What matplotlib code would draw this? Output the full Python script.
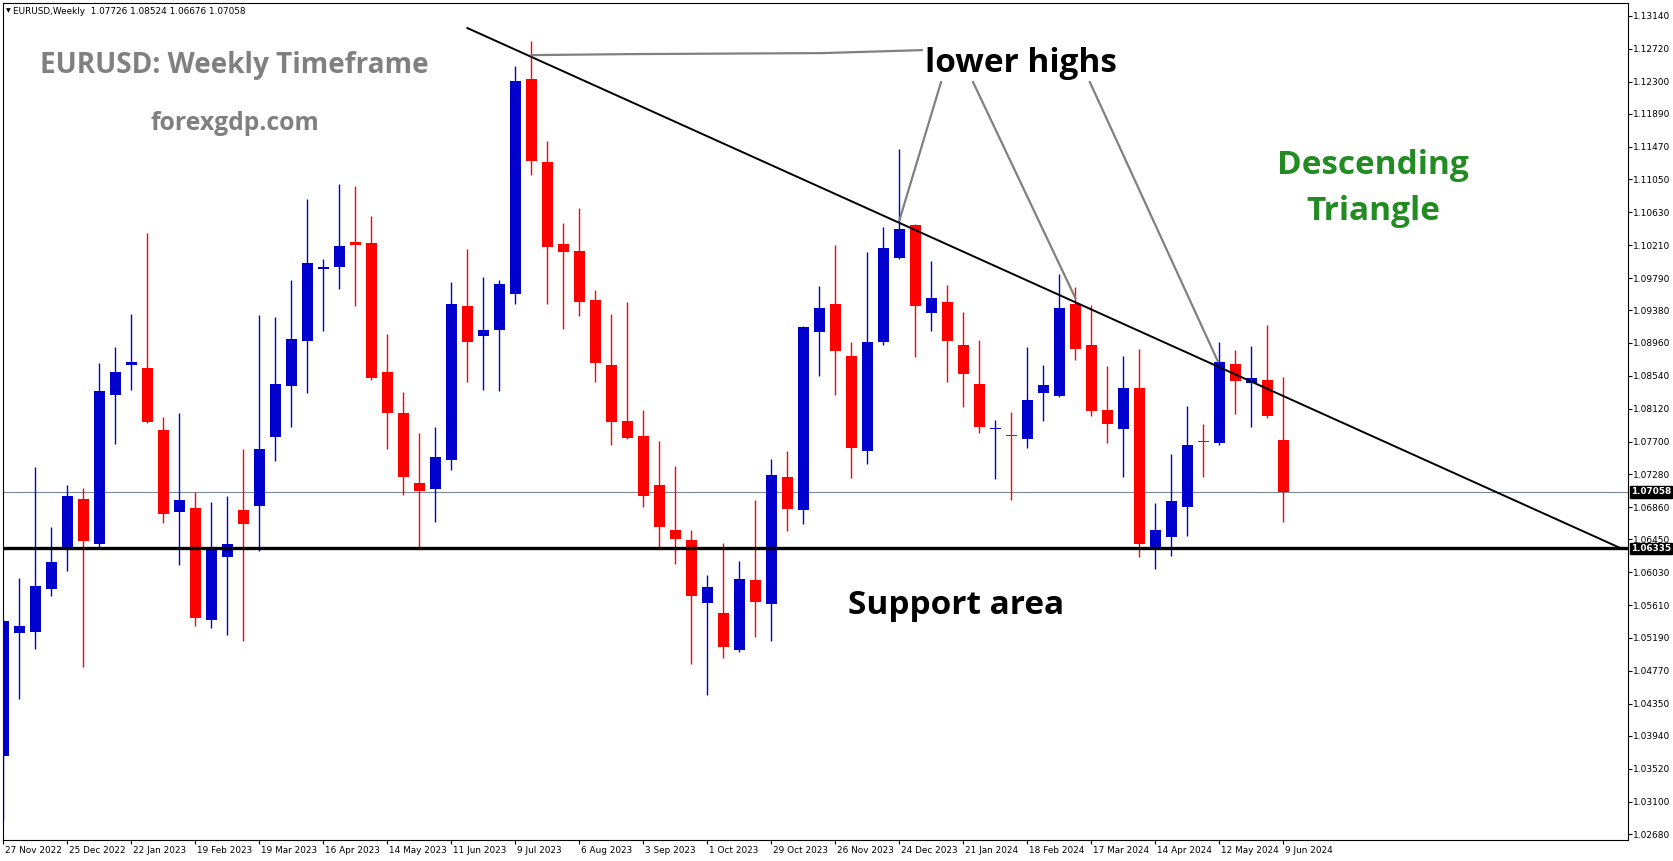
import numpy as np
import pandas as pd
import matplotlib
matplotlib.use("Agg")
import matplotlib.pyplot as plt
import matplotlib.transforms as mtransforms

# weekly EURUSD candles
symbol = "EURUSD,Weekly"
first_week = "2022-11-27"

opens = [1.03679, 1.05252, 1.05263, 1.05813, 1.06345, 1.06963, 1.06387, 1.08294, 1.08679, 1.08636,
         1.07845, 1.06798, 1.06847, 1.05419, 1.06224, 1.06820, 1.06876, 1.07758, 1.08411, 1.08986,
         1.09907, 1.09928, 1.10248, 1.10235, 1.08583, 1.08060, 1.07165, 1.07092, 1.07464, 1.09431,
         1.09050, 1.09128, 1.09587, 1.12333, 1.11273, 1.10223, 1.10132, 1.09505, 1.08675, 1.07957,
         1.07767, 1.07141, 1.06565, 1.06437, 1.05637, 1.05505, 1.05032, 1.05936, 1.05623, 1.07242,
         1.06825, 1.09101, 1.09455, 1.08788, 1.07582, 1.08973, 1.10047, 1.10467, 1.09343, 1.09481,
         1.08932, 1.08431, 1.07856, 1.07786, 1.07730, 1.08322, 1.08284, 1.09460, 1.08932, 1.08099,
         1.07861, 1.08380, 1.06348, 1.06480, 1.06863, 1.07707, 1.07682, 1.08688, 1.08449, 1.08483,
         1.07726]
highs = [1.05436, 1.05951, 1.07373, 1.06604, 1.07141, 1.07101, 1.08701, 1.08904, 1.09327, 1.10361,
         1.08009, 1.08061, 1.07050, 1.06925, 1.07010, 1.07611, 1.09322, 1.09288, 1.09764, 1.10797,
         1.10032, 1.10991, 1.10966, 1.10581, 1.09072, 1.08329, 1.07806, 1.07882, 1.09738, 1.10157,
         1.09798, 1.09764, 1.12501, 1.12816, 1.11541, 1.10490, 1.10680, 1.09634, 1.09327, 1.09478,
         1.08100, 1.07703, 1.07384, 1.06565, 1.06001, 1.06399, 1.06168, 1.06948, 1.07473, 1.07577,
         1.09171, 1.09687, 1.10207, 1.08968, 1.10123, 1.10439, 1.11436, 1.10480, 1.10005, 1.09698,
         1.09352, 1.08992, 1.07973, 1.08072, 1.08907, 1.08673, 1.09840, 1.09671, 1.09451, 1.08660,
         1.08790, 1.08880, 1.06910, 1.07537, 1.08151, 1.07921, 1.08969, 1.08867, 1.08918, 1.09187,
         1.08524]
lows = [1.02861, 1.04413, 1.05047, 1.05726, 1.06046, 1.04824, 1.06358, 1.07668, 1.08359, 1.07936,
        1.06660, 1.06120, 1.05341, 1.05316, 1.05225, 1.05147, 1.06306, 1.07455, 1.07888, 1.08320,
        1.09115, 1.09651, 1.09435, 1.08489, 1.07606, 1.07018, 1.06348, 1.06673, 1.07334, 1.08463,
        1.08358, 1.08345, 1.09457, 1.11105, 1.09457, 1.09137, 1.09306, 1.08463, 1.07655, 1.07733,
        1.06863, 1.06338, 1.06134, 1.04857, 1.04459, 1.04932, 1.05008, 1.05202, 1.05150, 1.06555,
        1.06645, 1.08537, 1.08297, 1.07237, 1.07412, 1.08935, 1.10031, 1.08781, 1.09114, 1.08462,
        1.08142, 1.07808, 1.07220, 1.06953, 1.07618, 1.07964, 1.08272, 1.08742, 1.08024, 1.07683,
        1.07247, 1.06222, 1.06070, 1.06237, 1.06492, 1.07247, 1.07656, 1.08052, 1.07886, 1.08001,
        1.06676]
closes = [1.05402, 1.05338, 1.05848, 1.06155, 1.07010, 1.06427, 1.08341, 1.08584, 1.08714, 1.07949,
          1.06772, 1.06950, 1.05441, 1.06318, 1.06396, 1.06647, 1.07602, 1.08432, 1.09008, 1.09980,
          1.09928, 1.10196, 1.10214, 1.08514, 1.08064, 1.07248, 1.07067, 1.07499, 1.09457, 1.08972,
          1.09124, 1.09712, 1.12306, 1.11287, 1.10188, 1.10123, 1.09483, 1.08705, 1.07949, 1.07746,
          1.07001, 1.06607, 1.06455, 1.05728, 1.05836, 1.05074, 1.05950, 1.05647, 1.07279, 1.06839,
          1.09162, 1.09403, 1.08859, 1.07620, 1.08968, 1.10170, 1.10416, 1.09434, 1.09533, 1.08985,
          1.08565, 1.07886, 1.07870, 1.07770, 1.08228, 1.08418, 1.09404, 1.08885, 1.08090, 1.07925,
          1.08379, 1.06390, 1.06565, 1.06936, 1.07652, 1.07691, 1.08714, 1.08474, 1.08509, 1.08027,
          1.07058]

price_ticks = [1.13140, 1.12720, 1.12300, 1.11890, 1.11470, 1.11050, 1.10630, 1.10210, 1.09790,
               1.09380, 1.08960, 1.08540, 1.08120, 1.07700, 1.07280, 1.06860, 1.06450, 1.06030,
               1.05610, 1.05190, 1.04770, 1.04350, 1.03940, 1.03520, 1.03100, 1.02680]

support_level = 1.06335

# drawn lines, as (bar index, price)
trend_x = [29.0, 101.1]
trend_y = [1.12985, 1.06335]
peak_link_x = [33.0, 39.1, 51.2, 57.4]
peak_link_y = [1.12639, 1.12652, 1.12665, 1.12703]
pointer_x = [[58.6, 56.0], [60.6, 67.0], [67.9, 75.9]]
pointer_y = [[1.12294, 1.10529], [1.12294, 1.09532], [1.12294, 1.08726]]

bull_color = "#0000cd"
bear_color = "#ff0000"

W, H = 1673, 861
fig = plt.figure(figsize=(W / 100, H / 100), dpi=100)
ax = fig.add_axes([2.7 / W, 21 / H, 1624.8 / W, 837.3 / H])

dates = pd.date_range(first_week, periods=len(opens), freq="7D")
x = np.arange(len(opens))
o = np.array(opens)
c = np.array(closes)
up = c >= o
colors = np.where(up, bull_color, bear_color)

ax.vlines(x, lows, highs, colors=colors, linewidth=1.0, zorder=2)
body_bottom = np.minimum(o, c)
body_height = np.maximum(np.abs(c - o), 0.00018)
ax.bar(x, body_height, bottom=body_bottom, width=0.69, color=colors,
       linewidth=0, zorder=3)

ax.axhline(support_level, color="black", linewidth=2.4, zorder=4)
ax.axhline(closes[-1], color="#778899", linewidth=0.8, zorder=1)
ax.plot(trend_x, trend_y, color="black", linewidth=1.4, zorder=5)
ax.plot(peak_link_x, peak_link_y, color="#808080", linewidth=1.6, zorder=5)
for px, py in zip(pointer_x, pointer_y):
    ax.plot(px, py, color="#808080", linewidth=1.6, zorder=5)

ax.set_xlim(-0.04, 101.5)
ax.set_ylim(1.02608, 1.13309)

# axes in the MT4 look
for s in ax.spines.values():
    s.set_linewidth(0.8)
    s.set_color("black")
ax.yaxis.tick_right()
ax.set_yticks(price_ticks)
ax.set_yticklabels([f"{p:.5f}" for p in price_ticks])
ax.tick_params(axis="y", length=3, width=0.8, pad=1.2, labelsize=6.5)

tick_idx = x[::4]
ax.set_xticks(tick_idx)
ax.set_xticklabels([f"{d.day} {d.strftime('%b %Y')}" for d in dates[::4]])
ax.tick_params(axis="x", length=3, width=0.8, pad=1.5, labelsize=6.4)
shift = mtransforms.ScaledTranslation(1.5 / 100, 0, fig.dpi_scale_trans)
for lbl in ax.get_xticklabels():
    lbl.set_ha("left")
    lbl.set_transform(lbl.get_transform() + shift)

# black price boxes on the price scale
box_tr = mtransforms.blended_transform_factory(ax.transAxes, ax.transData)
for level in [closes[-1], support_level]:
    ax.text(1.0 + 3.5 / 1624.8, level, f"{level:.5f}", transform=box_tr, ha="left",
            va="center", fontsize=6.4, color="white", fontweight="bold", clip_on=False,
            zorder=10, bbox=dict(boxstyle="square,pad=0.15", fc="black", ec="black"))

# header line
fig.text(6 / W, 1 - 11 / H, "\u25bc", fontsize=4.5, va="center", ha="left")
fig.text(13 / W, 1 - 11 / H,
         f"{symbol}  {opens[-1]:.5f} {highs[-1]:.5f} {lows[-1]:.5f} {closes[-1]:.5f}",
         fontsize=6.4, va="center", ha="left")

# overlay notes
font = "Open Sans"
fig.text(39.5 / W, 1 - 65 / H, "EURUSD: Weekly Timeframe", family=font, fontweight="bold",
         fontsize=20.2, color="#808080", ha="left", va="center")
fig.text(235 / W, 1 - 124 / H, "forexgdp.com", family=font, fontweight="bold",
         fontsize=17.8, color="#808080", ha="center", va="center")
fig.text(1021 / W, 1 - 64 / H, "lower highs", family=font, fontweight="bold",
         fontsize=24, color="black", ha="center", va="center")
fig.text(1373 / W, 1 - 165 / H, "Descending", family=font, fontweight="bold",
         fontsize=24, color="#228b22", ha="center", va="center")
fig.text(1373 / W, 1 - 212 / H, "Triangle", family=font, fontweight="bold",
         fontsize=24, color="#228b22", ha="center", va="center")
fig.text(956 / W, 1 - 605 / H, "Support area", family=font, fontweight="bold",
         fontsize=24, color="black", ha="center", va="center")

fig.savefig("out.png", dpi=100)
